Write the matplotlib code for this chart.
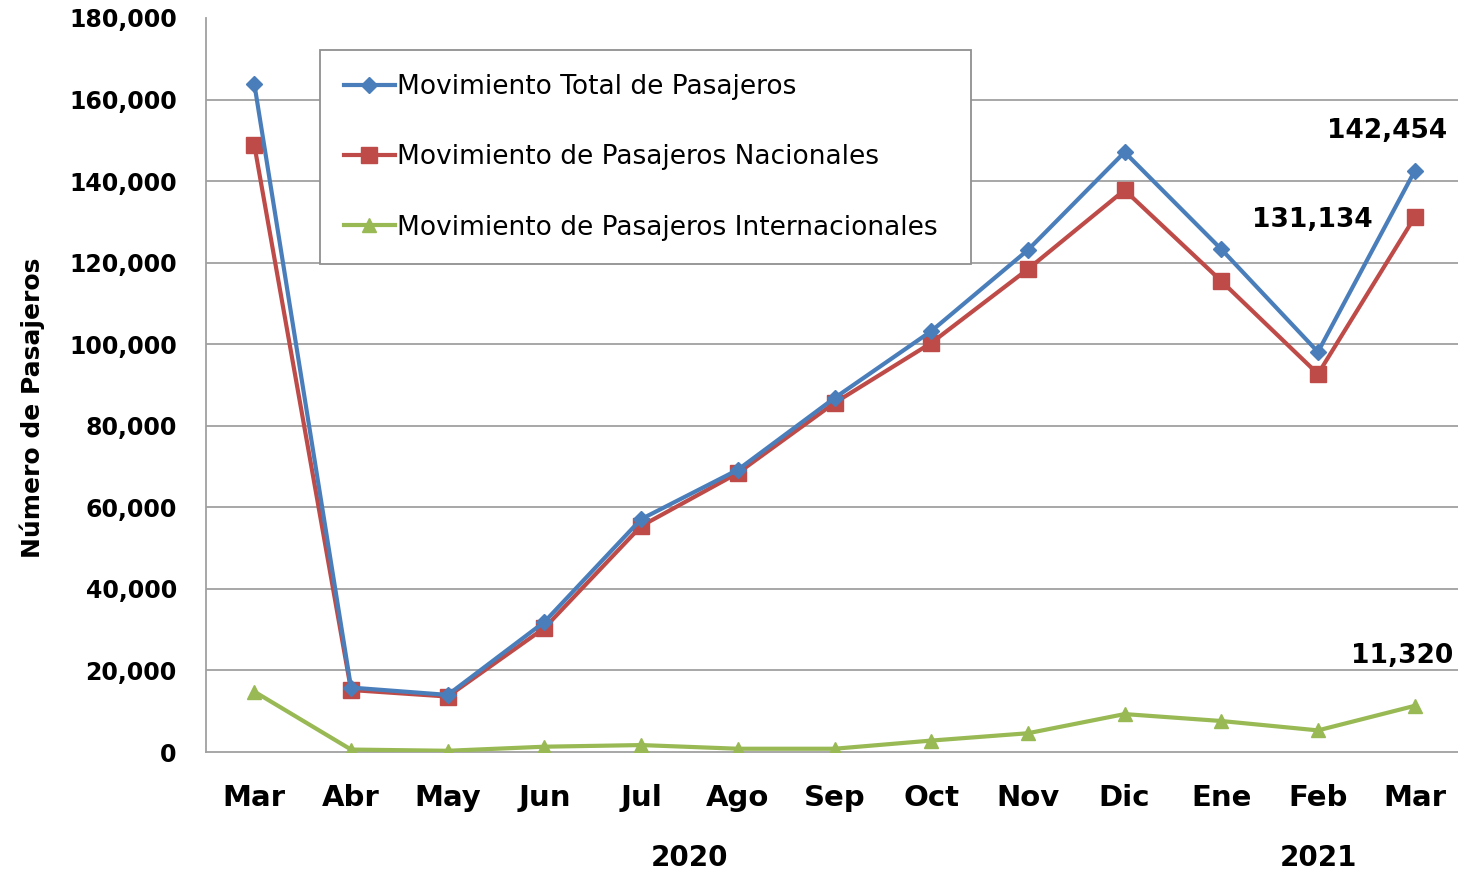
"""
Movimiento de pasajeros, marzo 2020 - marzo 2021
"""

from matplotlib import pyplot as plt
from matplotlib import transforms
from matplotlib.ticker import FuncFormatter
import numpy as np

MESES = ["Mar", "Abr", "May", "Jun", "Jul", "Ago", "Sep",
         "Oct", "Nov", "Dic", "Ene", "Feb", "Mar"]
TOTAL = [163800, 15800, 14000, 31900, 57100, 69200, 86800,
         103200, 123100, 147100, 123300, 98100, 142454]
NACIONAL = [148800, 15200, 13600, 30400, 55400, 68400, 85600,
            100300, 118400, 137800, 115500, 92700, 131134]
INTERNACIONAL = [14800, 600, 300, 1300, 1700, 800, 800,
                 2800, 4600, 9300, 7600, 5300, 11320]
ANIOS = [("2020", 4.5), ("2021", 11)]

AZUL = "#4A7EBB"
ROJO = "#BE4B48"
VERDE = "#98B954"

fig = plt.figure(figsize=(14.58, 8.74), dpi=100)
ax = fig.add_axes([206 / 1458, 122 / 874, 1257 / 1458, 734 / 874])

x = np.arange(len(MESES))
ax.plot(x, TOTAL, color=AZUL, lw=3, marker="D", ms=8,
        label="Movimiento Total de Pasajeros", zorder=4)
ax.plot(x, NACIONAL, color=ROJO, lw=3, marker="s", ms=11,
        label="Movimiento de Pasajeros Nacionales", zorder=3)
ax.plot(x, INTERNACIONAL, color=VERDE, lw=3, marker="^", ms=10,
        label="Movimiento de Pasajeros Internacionales", zorder=3)

ax.set_xlim(-0.5, len(MESES) - 0.5)
ax.set_ylim(0, 180000)
ax.set_yticks(np.arange(0, 180001, 20000))
ax.yaxis.set_major_formatter(FuncFormatter(lambda v, p: f"{v:,.0f}"))
# lineas de guia, sin la del tope
for v in np.arange(20000, 160001, 20000):
    ax.axhline(v, color="#A0A0A0", lw=1.3, zorder=1)
for s in ["top", "right"]:
    ax.spines[s].set_visible(False)
for s in ["left", "bottom"]:
    ax.spines[s].set_color("#A0A0A0")
    ax.spines[s].set_linewidth(1.3)
ax.tick_params(axis="both", length=0)
ax.tick_params(axis="y", pad=21, labelsize=17)
ax.tick_params(axis="x", pad=23, labelsize=21)
for t in ax.get_yticklabels():
    t.set_fontweight("bold")
ax.set_xticks(x)
ax.set_xticklabels(MESES, fontweight="bold")

ax.set_ylabel("Número de Pasajeros", fontsize=18, fontweight="bold")
ax.yaxis.set_label_coords(-0.128, 0.469)

trans = transforms.blended_transform_factory(ax.transData, ax.transAxes)
for anio, pos in ANIOS:
    ax.text(pos, -0.145, anio, transform=trans, ha="center", va="center",
            fontsize=20, fontweight="bold")

# etiquetas del ultimo mes
ult = len(MESES) - 1
for serie, dx, dy in [(TOTAL, -20, 29), (NACIONAL, -74, -2),
                      (INTERNACIONAL, -9, 36)]:
    ax.annotate(f"{serie[ult]:,}", (ult, serie[ult]), xytext=(dx, dy),
                textcoords="offset points", ha="center", va="center",
                fontsize=19, fontweight="bold", annotation_clip=False)

leg = ax.legend(loc="upper left", bbox_to_anchor=(0.0907, 0.956, 0.518, 0),
                mode="expand", fancybox=False, framealpha=1,
                edgecolor="#909090", fontsize=19, labelspacing=1.68,
                handlelength=1.95, handletextpad=0.08, borderpad=0.9,
                borderaxespad=0)
leg.get_frame().set_linewidth(1.3)

fig.savefig("out.png", dpi=100)
